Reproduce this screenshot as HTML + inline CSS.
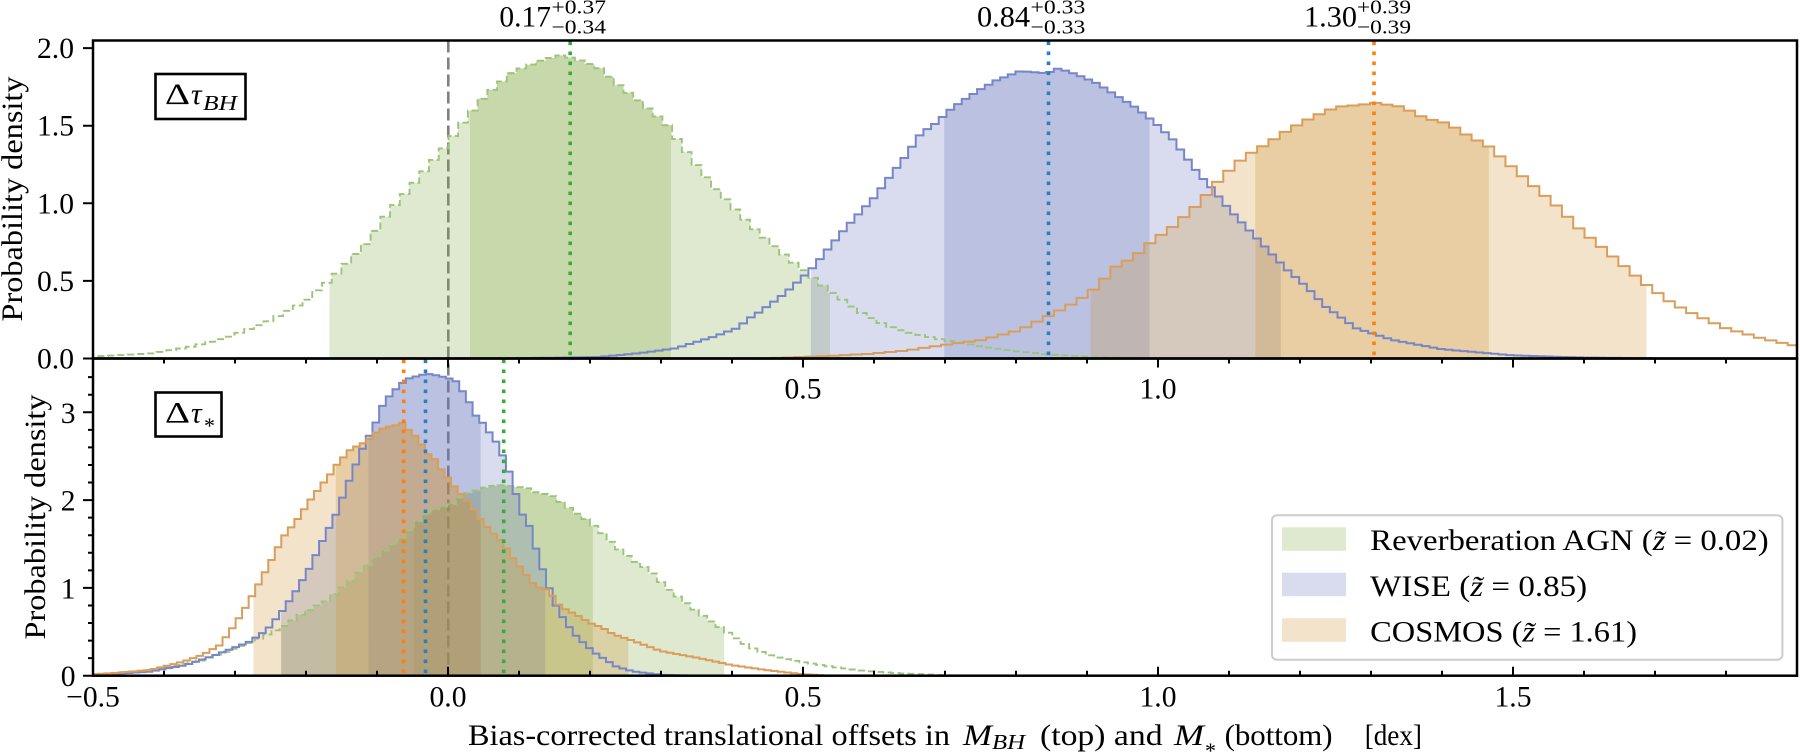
<!DOCTYPE html>
<html><head><meta charset="utf-8">
<style>
html,body{margin:0;padding:0;background:#fff;}
svg{display:block;}
text{font-family:"Liberation Serif","DejaVu Serif",serif;fill:#000;}
</style></head>
<body>
<svg id="s" xmlns="http://www.w3.org/2000/svg" width="1800" height="753" viewBox="0 0 1800 753">
<defs>
<clipPath id="ct"><rect x="93" y="40.5" width="1704" height="318"/></clipPath>
<clipPath id="cb"><rect x="93" y="358.5" width="1704" height="317.2"/></clipPath>
</defs>
<rect width="1800" height="753" fill="#fff"/>

<!-- grey dashed zero line (under fills) -->
<line x1="448.3" y1="40.5" x2="448.3" y2="675.7" stroke="#808080" stroke-width="2.6" stroke-dasharray="12 5"/>

<g id="gt" clip-path="url(#ct)"></g>
<g id="gb" clip-path="url(#cb)"></g>

<!-- median dotted lines -->
<g stroke-width="3.6" stroke-dasharray="3.6 6.4" fill="none">
<line x1="570.2" y1="41.5" x2="570.2" y2="358.5" stroke="#3aaa3a"/>
<line x1="1048.5" y1="41.5" x2="1048.5" y2="358.5" stroke="#2a7fc0"/>
<line x1="1374" y1="41.5" x2="1374" y2="358.5" stroke="#ff7f0e"/>
<line x1="403.7" y1="359.5" x2="403.7" y2="675.7" stroke="#ff7f0e"/>
<line x1="425.5" y1="359.5" x2="425.5" y2="675.7" stroke="#2a7fc0"/>
<line x1="503.7" y1="359.5" x2="503.7" y2="675.7" stroke="#3aaa3a"/>
</g>

<!-- spines -->
<rect x="93" y="40.5" width="1704" height="318" fill="none" stroke="#000" stroke-width="2.5"/>
<rect x="93" y="358.5" width="1704" height="317.2" fill="none" stroke="#000" stroke-width="2.5"/>

<!-- ticks -->
<path stroke="#000" stroke-width="2" fill="none" d="
M164,358.5v5 M235,358.5v5 M306,358.5v5 M377,358.5v5 M519,358.5v5 M590,358.5v5 M661,358.5v5 M732,358.5v5 M874,358.5v5 M945,358.5v5 M1016,358.5v5 M1087,358.5v5 M1229,358.5v5 M1300,358.5v5 M1371,358.5v5 M1442,358.5v5 M1584,358.5v5 M1655,358.5v5 M1726,358.5v5
M448,358.5v9 M803,358.5v9 M1158,358.5v9 M1513,358.5v9
M164,675.7v-5 M235,675.7v-5 M306,675.7v-5 M377,675.7v-5 M519,675.7v-5 M590,675.7v-5 M661,675.7v-5 M732,675.7v-5 M874,675.7v-5 M945,675.7v-5 M1016,675.7v-5 M1087,675.7v-5 M1229,675.7v-5 M1300,675.7v-5 M1371,675.7v-5 M1442,675.7v-5 M1584,675.7v-5 M1655,675.7v-5 M1726,675.7v-5
M448,675.7v-9 M803,675.7v-9 M1158,675.7v-9 M1513,675.7v-9
M93,358.5h-10 M93,280.9h-10 M93,203.3h-10 M93,125.7h-10 M93,48.1h-10
M93,675.7h-10 M93,587.9h-10 M93,500.1h-10 M93,412.3h-10
M93,658.14h-5 M93,640.58h-5 M93,623.02h-5 M93,605.46h-5 M93,570.34h-5 M93,552.78h-5 M93,535.22h-5 M93,517.66h-5 M93,482.54h-5 M93,464.98h-5 M93,447.42h-5 M93,429.86h-5 M93,394.74h-5 M93,377.18h-5
"/>

<!-- y tick labels -->
<g font-size="29.6" text-anchor="end">
<text x="74" y="58.1">2.0</text>
<text x="74" y="135.7">1.5</text>
<text x="74" y="213.3">1.0</text>
<text x="74" y="290.9">0.5</text>
<text x="74" y="368.5">0.0</text>
<text x="75.5" y="422.8">3</text>
<text x="75.5" y="510.6">2</text>
<text x="75.5" y="598.4">1</text>
<text x="75.5" y="686.2">0</text>
</g>

<!-- x tick labels -->
<g font-size="29.6" text-anchor="middle">
<text x="803" y="398.3">0.5</text>
<text x="1158" y="398.3">1.0</text>
<text x="93" y="706.7">−0.5</text>
<text x="448" y="706.7">0.0</text>
<text x="803" y="706.7">0.5</text>
<text x="1158" y="706.7">1.0</text>
<text x="1513" y="706.7">1.5</text>
</g>

<!-- y labels -->
<text transform="translate(22,199) rotate(-90)" font-size="29.6" text-anchor="middle" textLength="245" lengthAdjust="spacingAndGlyphs">Probability density</text>
<text transform="translate(45,517) rotate(-90)" font-size="29.6" text-anchor="middle" textLength="245" lengthAdjust="spacingAndGlyphs">Probability density</text>

<!-- x label -->
<text x="468" y="745" font-size="29.6" textLength="482" lengthAdjust="spacingAndGlyphs">Bias-corrected translational offsets in</text>
<text x="963" y="745" font-size="29.6" font-style="italic" textLength="29" lengthAdjust="spacingAndGlyphs">M</text>
<text x="992" y="749" font-size="20.7" font-style="italic" textLength="33" lengthAdjust="spacingAndGlyphs">BH</text>
<text x="1040" y="745" font-size="29.6" textLength="122.6" lengthAdjust="spacingAndGlyphs">(top) and</text>
<text x="1174" y="745" font-size="29.6" font-style="italic" textLength="30" lengthAdjust="spacingAndGlyphs">M</text>
<text x="1205" y="758" font-size="22">*</text>
<text x="1224.6" y="745" font-size="29.6" textLength="108" lengthAdjust="spacingAndGlyphs">(bottom)</text>
<text x="1364.7" y="745" font-size="29.6" textLength="57.3" lengthAdjust="spacingAndGlyphs">[dex]</text>

<!-- annotations -->
<text x="499.4" y="26.7" font-size="29.6" textLength="51.6" lengthAdjust="spacingAndGlyphs">0.17</text>
<text x="551.5" y="13.3" font-size="20" textLength="54.5" lengthAdjust="spacingAndGlyphs">+0.37</text>
<text x="551.5" y="33.3" font-size="20" textLength="54.5" lengthAdjust="spacingAndGlyphs">−0.34</text>
<text x="977" y="26.7" font-size="29.6" textLength="53" lengthAdjust="spacingAndGlyphs">0.84</text>
<text x="1030.5" y="13.3" font-size="20" textLength="54.8" lengthAdjust="spacingAndGlyphs">+0.33</text>
<text x="1030.5" y="33.3" font-size="20" textLength="54.8" lengthAdjust="spacingAndGlyphs">−0.33</text>
<text x="1304" y="26.7" font-size="29.6" textLength="53" lengthAdjust="spacingAndGlyphs">1.30</text>
<text x="1357" y="13.3" font-size="20" textLength="54" lengthAdjust="spacingAndGlyphs">+0.39</text>
<text x="1357" y="33.3" font-size="20" textLength="54" lengthAdjust="spacingAndGlyphs">−0.39</text>

<!-- panel label boxes -->
<rect x="155.5" y="74" width="90" height="45" fill="#fff" stroke="#000" stroke-width="2.6"/>
<text x="165" y="104" font-size="29.6" textLength="25" lengthAdjust="spacingAndGlyphs">Δ</text>
<text x="191" y="104" font-size="29.6" font-style="italic">τ</text>
<text x="203" y="110" font-size="20.7" font-style="italic" textLength="34" lengthAdjust="spacingAndGlyphs">BH</text>

<rect x="155.5" y="392.5" width="66" height="44" fill="#fff" stroke="#000" stroke-width="2.6"/>
<text x="165" y="422.7" font-size="29.6" textLength="25" lengthAdjust="spacingAndGlyphs">Δ</text>
<text x="191" y="422.7" font-size="29.6" font-style="italic">τ</text>
<text x="204" y="433" font-size="22">*</text>

<!-- legend -->
<rect x="1272" y="515.3" width="510.4" height="144.4" rx="5" ry="5" fill="#fff" fill-opacity="0.8" stroke="#cccccc" stroke-width="2"/>
<rect x="1282" y="527.3" width="64" height="23.5" fill="#dfe9cf"/>
<rect x="1282" y="572.7" width="64" height="23.5" fill="#d8dcee"/>
<rect x="1282" y="618.3" width="64" height="23.5" fill="#f2e3ca"/>
<text x="1370.2" y="550" font-size="29.6" textLength="398.5" lengthAdjust="spacingAndGlyphs">Reverberation AGN (<tspan font-style="italic">z̃</tspan> = 0.02)</text>
<text x="1370.2" y="595.8" font-size="29.6" textLength="217" lengthAdjust="spacingAndGlyphs">WISE (<tspan font-style="italic">z̃</tspan> = 0.85)</text>
<text x="1370.2" y="641.6" font-size="29.6" textLength="266.8" lengthAdjust="spacingAndGlyphs">COSMOS (<tspan font-style="italic">z̃</tspan> = 1.61)</text>
</svg>

<script>
(function(){
const NS='http://www.w3.org/2000/svg';
const X=v=>93+(v+0.5)*710;
const YT=d=>358.5-d*155.2;
const YB=d=>675.7-d*87.8;
function interp(p,x){
  const n=p.length;
  if(x<=p[0][0])return p[0][1];
  if(x>=p[n-1][0])return p[n-1][1];
  for(let i=1;i<n;i++){ if(x<=p[i][0]){const a=p[i-1],b=p[i];return a[1]+(b[1]-a[1])*(x-a[0])/(b[0]-a[0]);} }
  return 0;
}
function hist(p,a,b,w){
  const n=Math.ceil((b-a)/w);const e=[],h=[];
  for(let i=0;i<=n;i++)e.push(a+i*w);
  for(let i=0;i<n;i++)h.push(Math.max(0,interp(p,a+(i+0.5)*w)));
  return {e:e,h:h,w:w,x0:a,n:n};
}
function hAt(H,x){let i=Math.floor((x-H.x0)/H.w);i=Math.max(0,Math.min(H.n-1,i));return H.h[i];}
function f(v){return v.toFixed(2);}
function stepPath(H,Y){
  let d='M'+f(X(H.e[0]))+','+f(Y(0));
  for(let i=0;i<H.n;i++){d+=' L'+f(X(H.e[i]))+','+f(Y(H.h[i]))+' L'+f(X(H.e[i+1]))+','+f(Y(H.h[i]));}
  d+=' L'+f(X(H.e[H.n]))+','+f(Y(0));
  return d;
}
function fillPath(H,Y,a,b){
  const pts=[[X(a),Y(0)],[X(a),Y(hAt(H,a))]];
  let i=Math.max(1,Math.floor((a-H.x0)/H.w)+1);
  for(;i<H.n&&H.e[i]<b;i++){pts.push([X(H.e[i]),Y(H.h[i-1])]);pts.push([X(H.e[i]),Y(H.h[i])]);}
  pts.push([X(b),Y(hAt(H,b))]);pts.push([X(b),Y(0)]);
  return 'M'+pts.map(p=>f(p[0])+','+f(p[1])).join(' L')+' Z';
}
function add(g,d,at){const e=document.createElementNS(NS,'path');e.setAttribute('d',d);for(const k in at)e.setAttribute(k,at[k]);g.appendChild(e);}
function panel(gid,Y,sets){
  const g=document.getElementById(gid);
  const Hs=sets.map(s=>hist(s.p,s.a,s.b,s.w));
  sets.forEach((s,i)=>{
    add(g,fillPath(Hs[i],Y,s.L[0],s.L[1]),{fill:s.c,'fill-opacity':'0.25'});
    add(g,fillPath(Hs[i],Y,s.D[0],s.D[1]),{fill:s.c,'fill-opacity':'0.25'});
  });
  sets.forEach((s,i)=>{
    const at={fill:'none',stroke:s.lc,'stroke-width':s.lw||2};
    if(s.dash)at['stroke-dasharray']=s.dash;
    add(g,stepPath(Hs[i],Y),at);
  });
}
const G='#7fa73f',B='#6373bb',O='#cb8f2b';

const gT=[[-0.52,0.008],[-0.5,0.012],[-0.415,0.033],[-0.362,0.076],[-0.308,0.14],[-0.254,0.237],[-0.2,0.37],[-0.182,0.45],[-0.167,0.5],[-0.113,0.75],[-0.086,0.93],[-0.059,1.07],[-0.031,1.22],[0.0,1.387],[0.024,1.537],[0.051,1.687],[0.092,1.848],[0.133,1.923],[0.16,1.955],[0.192,1.912],[0.213,1.87],[0.24,1.762],[0.267,1.666],[0.307,1.515],[0.32,1.43],[0.348,1.258],[0.374,1.107],[0.401,0.978],[0.428,0.849],[0.455,0.742],[0.482,0.635],[0.511,0.532],[0.536,0.441],[0.58,0.30],[0.618,0.21],[0.644,0.173],[0.698,0.119],[0.752,0.076],[0.806,0.044],[0.86,0.023],[0.914,0.01],[0.97,0.003]];
const bT=[[0.0,0.0],[0.1,0.002],[0.213,0.01],[0.267,0.033],[0.32,0.065],[0.374,0.14],[0.407,0.195],[0.428,0.27],[0.439,0.30],[0.472,0.41],[0.493,0.495],[0.515,0.59],[0.536,0.71],[0.558,0.83],[0.579,0.935],[0.601,1.04],[0.622,1.17],[0.644,1.30],[0.666,1.45],[0.687,1.515],[0.709,1.61],[0.73,1.676],[0.752,1.74],[0.773,1.794],[0.806,1.852],[0.844,1.838],[0.86,1.87],[0.887,1.827],[0.914,1.773],[0.94,1.698],[0.967,1.622],[0.994,1.526],[1.021,1.41],[1.058,1.185],[1.074,1.107],[1.101,0.957],[1.128,0.828],[1.155,0.699],[1.182,0.57],[1.209,0.463],[1.236,0.334],[1.263,0.248],[1.279,0.195],[1.33,0.12],[1.4,0.06],[1.5,0.02],[1.6,0.006],[1.72,0.0]];
const oT=[[0.44,0.0],[0.536,0.016],[0.59,0.029],[0.644,0.05],[0.698,0.087],[0.752,0.119],[0.806,0.184],[0.844,0.27],[0.887,0.37],[0.914,0.46],[0.94,0.59],[0.967,0.656],[0.994,0.764],[1.021,0.849],[1.058,1.0],[1.09,1.17],[1.122,1.30],[1.155,1.387],[1.187,1.483],[1.219,1.558],[1.252,1.622],[1.284,1.633],[1.305,1.648],[1.343,1.622],[1.376,1.548],[1.408,1.515],[1.435,1.44],[1.466,1.365],[1.498,1.236],[1.53,1.107],[1.563,0.978],[1.595,0.828],[1.627,0.71],[1.66,0.581],[1.688,0.474],[1.724,0.356],[1.757,0.28],[1.8,0.195],[1.85,0.13],[1.9,0.08],[1.95,0.05]];

const gB=[[-0.52,0.006],[-0.5,0.01],[-0.42,0.065],[-0.35,0.17],[-0.279,0.37],[-0.232,0.56],[-0.21,0.68],[-0.186,0.79],[-0.171,0.85],[-0.157,0.95],[-0.138,1.07],[-0.119,1.22],[-0.1,1.36],[-0.082,1.47],[-0.063,1.58],[-0.049,1.70],[-0.039,1.79],[-0.025,1.87],[-0.011,1.92],[0.003,1.94],[0.012,2.0],[0.022,2.06],[0.04,2.11],[0.059,2.16],[0.078,2.17],[0.097,2.15],[0.115,2.13],[0.125,2.08],[0.144,2.06],[0.162,1.96],[0.181,1.85],[0.19,1.81],[0.213,1.66],[0.236,1.47],[0.26,1.32],[0.284,1.20],[0.307,1.01],[0.33,0.86],[0.354,0.71],[0.389,0.52],[0.424,0.33],[0.457,0.22],[0.495,0.16],[0.542,0.10],[0.589,0.053],[0.636,0.027],[0.7,0.005],[0.76,0.0]];
const bB=[[-0.52,0.004],[-0.5,0.006],[-0.42,0.046],[-0.37,0.12],[-0.326,0.24],[-0.279,0.39],[-0.255,0.52],[-0.232,0.75],[-0.213,0.98],[-0.194,1.24],[-0.176,1.55],[-0.157,1.85],[-0.15,2.0],[-0.143,2.15],[-0.133,2.34],[-0.124,2.53],[-0.115,2.67],[-0.107,2.8],[-0.1,2.91],[-0.091,3.10],[-0.079,3.22],[-0.065,3.33],[-0.054,3.39],[-0.03,3.44],[-0.016,3.42],[0.0,3.39],[0.012,3.35],[0.022,3.22],[0.031,3.10],[0.04,2.95],[0.05,2.87],[0.059,2.76],[0.069,2.65],[0.078,2.49],[0.087,2.31],[0.091,2.17],[0.099,2.0],[0.106,1.81],[0.115,1.70],[0.123,1.47],[0.132,1.24],[0.139,1.09],[0.148,0.86],[0.158,0.71],[0.167,0.60],[0.177,0.48],[0.186,0.41],[0.205,0.27],[0.238,0.10],[0.26,0.05],[0.3,0.01],[0.35,0.0]];
const oB=[[-0.52,0.01],[-0.47,0.03],[-0.42,0.065],[-0.373,0.16],[-0.345,0.24],[-0.321,0.35],[-0.302,0.56],[-0.284,0.79],[-0.269,1.01],[-0.251,1.28],[-0.232,1.58],[-0.213,1.77],[-0.194,2.0],[-0.176,2.19],[-0.166,2.29],[-0.159,2.38],[-0.147,2.49],[-0.138,2.57],[-0.129,2.61],[-0.119,2.65],[-0.11,2.70],[-0.1,2.78],[-0.091,2.82],[-0.082,2.84],[-0.072,2.855],[-0.062,2.89],[-0.054,2.78],[-0.044,2.72],[-0.035,2.61],[-0.025,2.49],[-0.016,2.46],[-0.007,2.31],[0.003,2.23],[0.012,2.12],[0.022,2.04],[0.031,1.96],[0.04,1.85],[0.05,1.74],[0.059,1.66],[0.069,1.58],[0.078,1.51],[0.087,1.39],[0.097,1.28],[0.106,1.20],[0.115,1.09],[0.125,1.01],[0.139,0.98],[0.148,0.90],[0.158,0.79],[0.167,0.75],[0.186,0.67],[0.2,0.60],[0.217,0.55],[0.233,0.47],[0.26,0.40],[0.3,0.28],[0.354,0.20],[0.4,0.12],[0.448,0.065],[0.495,0.02],[0.54,0.0]];

panel('gt',YT,[
  {p:gT,a:-0.52,b:0.98,w:0.0137,c:G,lc:'#9cc47a',dash:'7 3.5',lw:1.9,L:[-0.167,0.538],D:[0.031,0.314]},
  {p:bT,a:0.0,b:1.75,w:0.0108,c:B,lc:'#7786c8',L:[0.511,1.173],D:[0.699,0.988]},
  {p:oT,a:0.44,b:1.95,w:0.0159,c:O,lc:'#d99e5c',L:[0.905,1.688],D:[1.137,1.466]}
]);
panel('gb',YB,[
  {p:gB,a:-0.52,b:0.78,w:0.0118,c:G,lc:'#9cc47a',dash:'7 3.5',lw:1.9,L:[-0.235,0.389],D:[-0.048,0.204]},
  {p:bB,a:-0.52,b:0.36,w:0.0094,c:B,lc:'#7786c8',L:[-0.235,0.137],D:[-0.112,0.046]},
  {p:oB,a:-0.52,b:0.56,w:0.0092,c:O,lc:'#d99e5c',L:[-0.274,0.254],D:[-0.158,0.046]}
]);
})();
</script>
</body></html>
